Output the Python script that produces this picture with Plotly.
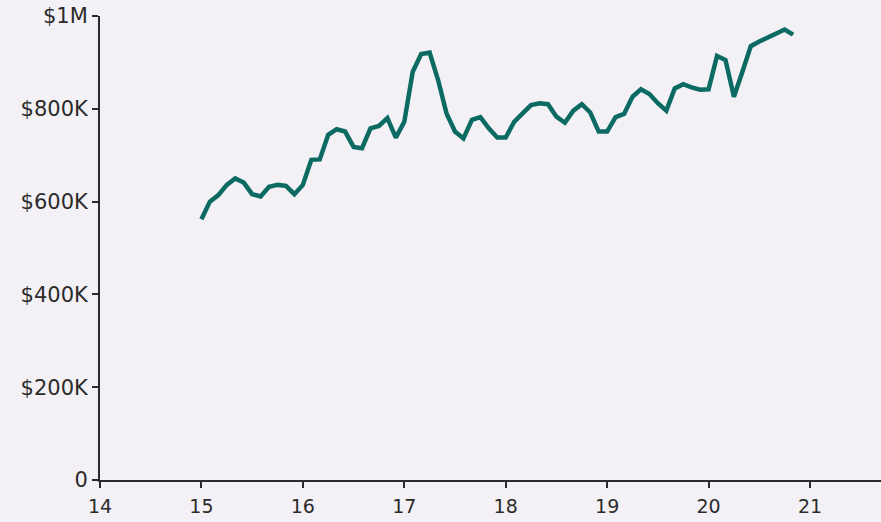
import plotly.graph_objects as go

# Monthly values (thousands of dollars), starting at year 15.0
months = list(range(71))
values_k = [562, 600, 614, 636, 650, 641, 616, 611, 632, 636, 634, 616,
            636, 690, 691, 744, 756, 751, 718, 715, 758, 763, 780, 738,
            772, 880, 918, 921, 862, 790, 751, 736, 776, 782, 758, 738,
            738, 772, 790, 808, 812, 810, 783, 770, 796, 810, 792, 751,
            751, 782, 789, 826, 842, 832, 812, 796, 844, 853, 846, 841,
            842, 914, 905, 826, 880, 935, 945, 954, 964, 971, 960]
start_year = 15
x_ticks = [14, 15, 16, 17, 18, 19, 20, 21]
y_ticks = [0, 200000, 400000, 600000, 800000, 1000000]
y_tick_labels = ["0", "$200K", "$400K", "$600K", "$800K", "$1M"]

x_vals = [start_year + m / 12 for m in months]
y_vals = [v * 1000 for v in values_k]

bg = "#f3f1f6"
axis_col = "#2b2b2b"

fig = go.Figure()
fig.add_trace(go.Scatter(
    x=x_vals, y=y_vals, mode="lines",
    line=dict(color="#0b6b63", width=4.5),
    hoverinfo="skip", showlegend=False,
))

fig.update_layout(
    width=881, height=522,
    paper_bgcolor=bg, plot_bgcolor=bg,
    margin=dict(l=100, r=0, t=16, b=42),
    font=dict(family="DejaVu Sans", color=axis_col),
    showlegend=False,
)
fig.update_xaxes(
    range=[14, 21.7], tickvals=x_ticks, ticktext=[str(t) for t in x_ticks],
    showgrid=False, zeroline=False, showline=True, linecolor=axis_col, linewidth=2,
    ticks="outside", ticklen=6, tickwidth=2, tickcolor=axis_col,
    ticklabelstandoff=2,
    tickfont=dict(size=19, family="DejaVu Sans", color=axis_col),
)
fig.update_yaxes(
    range=[0, 1000000], tickvals=y_ticks, ticktext=y_tick_labels,
    showgrid=False, zeroline=False, showline=True, linecolor=axis_col, linewidth=2,
    ticks="outside", ticklen=6, tickwidth=2, tickcolor=axis_col,
    tickfont=dict(size=21, family="DejaVu Sans", color=axis_col),
)

fig.write_html("out.html", config={"displayModeBar": False, "staticPlot": True})

# remove the browser's default page margin so the figure fills the window
with open("out.html", "r", encoding="utf-8") as f:
    html = f.read()
html = html.replace("<head>", "<head><style>html,body{margin:0;padding:0;overflow:hidden;}</style>", 1)
with open("out.html", "w", encoding="utf-8") as f:
    f.write(html)
